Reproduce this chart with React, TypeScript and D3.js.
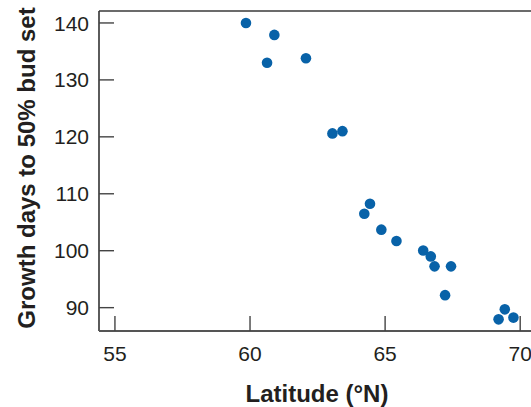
import { useEffect, useRef } from 'react';
import * as d3 from 'd3';

// Latitude (°N) and growth days to 50% bud set
const latitude = [59.85, 60.9, 60.63, 62.07, 63.05, 63.42, 64.44, 64.23, 64.86, 65.42, 66.41, 66.69, 66.83, 67.44, 67.22, 69.43, 69.2, 69.75];
const growthDays = [140.0, 137.9, 133.0, 133.8, 120.6, 121.0, 108.25, 106.5, 103.7, 101.7, 100.05, 99.0, 97.25, 97.25, 92.2, 89.7, 87.95, 88.25];
const xTicks = [55, 60, 65, 70];
const yTicks = [90, 100, 110, 120, 130, 140];

export default function App() {
    const svgRef = useRef<SVGSVGElement>(null);

    useEffect(() => {
        if (!svgRef.current) return;
        const svg = d3.select(svgRef.current);
        svg.selectAll('*').remove();

        const left = 99, right = 531, top = 11, bottom = 331;
        const font = '"Liberation Sans", Arial, sans-serif';

        const x = d3.scaleLinear().domain([54.41, 70.4]).range([left, right]);
        const y = d3.scaleLinear().domain([85.9, 142.1]).range([bottom, top]);

        const g = svg.append('g');

        // Frame: top, left, bottom (right edge is cropped)
        g.append('line')
            .attr('x1', left).attr('x2', right)
            .attr('y1', top).attr('y2', top)
            .attr('stroke', '#6b6b6b').attr('stroke-width', 2);
        g.append('line')
            .attr('x1', left).attr('x2', left)
            .attr('y1', top).attr('y2', bottom)
            .attr('stroke', '#333').attr('stroke-width', 1.6);
        g.append('line')
            .attr('x1', left).attr('x2', right)
            .attr('y1', bottom).attr('y2', bottom)
            .attr('stroke', '#555').attr('stroke-width', 1.8);

        // Y ticks (inward)
        g.selectAll('.ytick')
            .data(yTicks)
            .join('line')
            .attr('x1', left).attr('x2', left + 15)
            .attr('y1', d => y(d)).attr('y2', d => y(d))
            .attr('stroke', '#444').attr('stroke-width', 1.4);

        g.selectAll('.ylabel')
            .data(yTicks)
            .join('text')
            .attr('x', 89)
            .attr('y', d => y(d))
            .attr('dy', '0.36em')
            .attr('text-anchor', 'end')
            .attr('font-family', font)
            .attr('font-size', '21px')
            .attr('fill', '#231f20')
            .text(d => d);

        // X ticks (inward)
        g.selectAll('.xtick')
            .data(xTicks)
            .join('line')
            .attr('x1', d => x(d)).attr('x2', d => x(d))
            .attr('y1', bottom).attr('y2', bottom - 15)
            .attr('stroke', '#444').attr('stroke-width', 1.4);

        g.selectAll('.xlabel')
            .data(xTicks)
            .join('text')
            .attr('x', d => x(d))
            .attr('y', 361)
            .attr('text-anchor', 'middle')
            .attr('font-family', font)
            .attr('font-size', '21px')
            .attr('fill', '#231f20')
            .text(d => d);

        // Axis titles
        g.append('text')
            .attr('x', 317)
            .attr('y', 402)
            .attr('text-anchor', 'middle')
            .attr('font-family', font)
            .attr('font-size', '24px')
            .attr('font-weight', 'bold')
            .attr('fill', '#231f20')
            .text('Latitude (°N)');

        g.append('text')
            .attr('transform', 'translate(35,168) rotate(-90)')
            .attr('text-anchor', 'middle')
            .attr('font-family', font)
            .attr('font-size', '24px')
            .attr('font-weight', 'bold')
            .attr('fill', '#231f20')
            .text('Growth days to 50% bud set');

        // Points
        g.selectAll('.pt')
            .data(latitude)
            .join('circle')
            .attr('cx', d => x(d))
            .attr('cy', (d, i) => y(growthDays[i]))
            .attr('r', 5.3)
            .attr('fill', '#0862a8');
    }, []);

    return (
        <div style={{ position: 'absolute', left: 0, top: 0 }}>
            <svg ref={svgRef} width={531} height={407} style={{ display: 'block' }} />
        </div>
    );
}
